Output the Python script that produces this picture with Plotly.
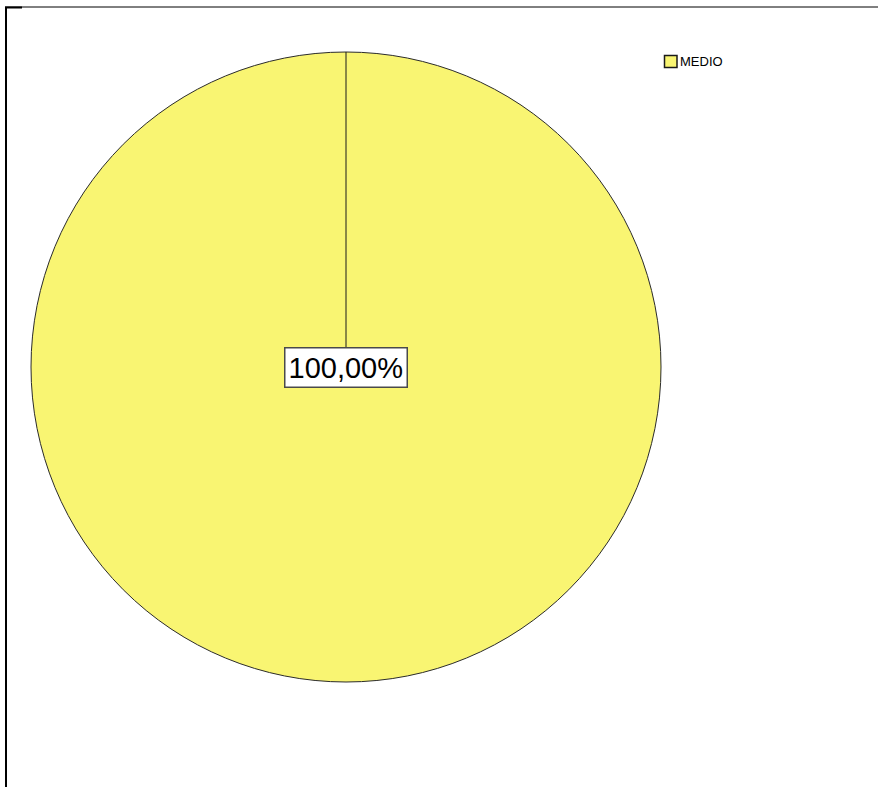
import plotly.graph_objects as go

# Data
categories = ["MEDIO"]
values = [100.0]
slice_colors = ["#F9F572"]

W, H = 878, 787

# Pie geometry (pixels, top-left origin)
cx, cy, r = 346, 367, 315

def px_x(x):
    return x / W

def px_y(y):
    return 1 - y / H

fig = go.Figure()
fig.add_trace(go.Pie(
    labels=categories,
    values=values,
    marker=dict(colors=slice_colors, line=dict(color="#2b2b2b", width=1)),
    textinfo="none",
    hoverinfo="label+percent",
    sort=False,
    direction="clockwise",
    rotation=0,
    showlegend=False,
    domain=dict(x=[px_x(cx - r), px_x(cx + r)], y=[px_y(cy + r), px_y(cy - r)]),
))

total = sum(values)
pct_text = f"{values[0] / total * 100:.2f}%".replace(".", ",")

shapes = [
    # slice boundary from the top of the circle to the centre
    dict(type="line", xref="paper", yref="paper",
         x0=px_x(cx), x1=px_x(cx), y0=px_y(cy - r), y1=px_y(cy),
         line=dict(color="#1a1a1a", width=1)),
    # frame lines
    dict(type="line", xref="paper", yref="paper",
         x0=px_x(5), x1=px_x(878), y0=px_y(7), y1=px_y(7),
         line=dict(color="black", width=1)),
    dict(type="line", xref="paper", yref="paper",
         x0=px_x(5), x1=px_x(22), y0=px_y(7.5), y1=px_y(7.5),
         line=dict(color="black", width=2)),
    dict(type="line", xref="paper", yref="paper",
         x0=px_x(6), x1=px_x(6), y0=px_y(7), y1=px_y(787),
         line=dict(color="black", width=2)),
    # legend swatch
    dict(type="rect", xref="paper", yref="paper",
         x0=px_x(664.5), x1=px_x(677), y0=px_y(67.5), y1=px_y(55.5),
         fillcolor=slice_colors[0], line=dict(color="#1a1a1a", width=1.5)),
]

annotations = [
    dict(text=pct_text, xref="paper", yref="paper",
         x=px_x(cx), y=px_y(cy + 0.5), xanchor="center", yanchor="middle",
         showarrow=False, bgcolor="white", bordercolor="#4a4a4a",
         borderwidth=1.5, borderpad=3,
         font=dict(family="Liberation Sans, Arial, sans-serif", size=29, color="black")),
    dict(text=categories[0], xref="paper", yref="paper",
         x=px_x(678), y=px_y(62), xanchor="left", yanchor="middle",
         showarrow=False,
         font=dict(family="Liberation Sans, Arial, sans-serif", size=13, color="black")),
]

fig.update_layout(
    width=W, height=H,
    margin=dict(l=0, r=0, t=0, b=0),
    paper_bgcolor="white",
    plot_bgcolor="white",
    shapes=shapes,
    annotations=annotations,
)

fig.write_html("out.html")
